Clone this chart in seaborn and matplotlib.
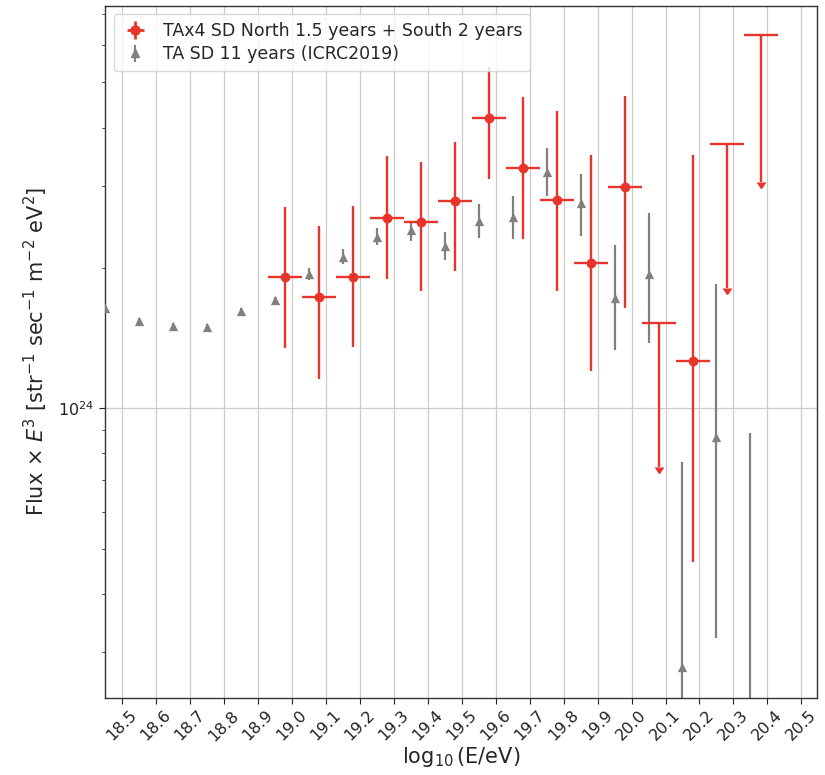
import numpy as np
import matplotlib
matplotlib.use("Agg")
import matplotlib.pyplot as plt
import seaborn as sns
from matplotlib.container import ErrorbarContainer
from matplotlib.lines import Line2D
from matplotlib.collections import LineCollection
from matplotlib.ticker import NullFormatter, MultipleLocator, FormatStrFormatter

# --- TAx4 SD (North 1.5 yr + South 2 yr): measured bins ---
tax4_loge = [18.98, 19.08, 19.18, 19.28, 19.38, 19.48, 19.58, 19.68, 19.78, 19.88, 19.98, 20.18]
tax4_flux = [1.910e24, 1.736e24, 1.916e24, 2.557e24, 2.507e24, 2.782e24, 4.192e24,
             3.283e24, 2.799e24, 2.053e24, 2.985e24, 1.265e24]
tax4_hi = [2.707e24, 2.461e24, 2.721e24, 3.467e24, 3.372e24, 3.733e24, 5.383e24,
           4.649e24, 4.330e24, 3.484e24, 4.680e24, 3.484e24]
tax4_lo = [1.345e24, 1.154e24, 1.356e24, 1.891e24, 1.788e24, 1.974e24, 3.100e24,
           2.308e24, 1.788e24, 1.204e24, 1.644e24, 4.687e23]

# --- TAx4 SD: upper limits ---
tax4_ul_loge = [20.08, 20.28, 20.38]
tax4_ul_flux = [1.524e24, 3.685e24, 6.303e24]
tax4_ul_arrow = [0.748e24, 1.809e24, 3.063e24]

# --- TA SD 11 years (ICRC2019) ---
ta_loge = [18.45, 18.55, 18.65, 18.75, 18.85, 18.95, 19.05, 19.15, 19.25, 19.35,
           19.45, 19.55, 19.65, 19.75, 19.85, 19.95, 20.05, 20.15, 20.25, 20.35]
ta_flux = [1.641e24, 1.539e24, 1.502e24, 1.492e24, 1.618e24, 1.708e24, 1.939e24,
           2.115e24, 2.334e24, 2.407e24, 2.227e24, 2.527e24, 2.573e24, 3.219e24,
           2.762e24, 1.722e24, 1.942e24, 2.790e23, 8.660e23, 1.600e23]
ta_hi = [1.665e24, 1.560e24, 1.522e24, 1.512e24, 1.640e24, 1.735e24, 1.997e24,
         2.194e24, 2.441e24, 2.519e24, 2.386e24, 2.741e24, 2.855e24, 3.614e24,
         3.183e24, 2.240e24, 2.621e24, 7.680e23, 1.845e24, 8.860e23]
ta_lo = [1.617e24, 1.518e24, 1.482e24, 1.472e24, 1.596e24, 1.681e24, 1.885e24,
         2.037e24, 2.240e24, 2.289e24, 2.081e24, 2.323e24, 2.308e24, 2.855e24,
         2.346e24, 1.334e24, 1.383e24, 1.200e23, 3.210e23, 5.000e22]

bin_half_width = 0.05

RED = "#e8352b"
GRAY = "#808080"

sns.set_style("ticks")
plt.rcParams["font.family"] = ["DejaVu Sans"]
plt.rcParams["mathtext.fontset"] = "dejavusans"

fig = plt.figure(figsize=(8.25, 7.75), dpi=100)
ax = fig.add_axes([0.1273, 0.0994, 0.8626, 0.8932])

ta_df = {"loge": np.array(ta_loge), "flux": np.array(ta_flux)}
tax4_df = {"loge": np.array(tax4_loge), "flux": np.array(tax4_flux)}

# TA SD error bars and points
ta_f = np.array(ta_flux)
ax.errorbar(ta_loge, ta_f, yerr=[ta_f - np.array(ta_lo), np.array(ta_hi) - ta_f],
            fmt="none", ecolor=GRAY, elinewidth=1.6, capsize=0, zorder=2)
sns.scatterplot(x="loge", y="flux", data=ta_df, marker="^", color=GRAY, s=45,
                linewidth=0, ax=ax, legend=False, zorder=3)

# TAx4 measured bins
tx_f = np.array(tax4_flux)
ax.errorbar(tax4_loge, tx_f, xerr=bin_half_width,
            yerr=[tx_f - np.array(tax4_lo), np.array(tax4_hi) - tx_f],
            fmt="none", ecolor=RED, elinewidth=1.7, capsize=0, zorder=4)
sns.scatterplot(x="loge", y="flux", data=tax4_df, marker="o", color=RED, s=50,
                linewidth=0, ax=ax, legend=False, zorder=5)

# TAx4 upper limits
ul_f = np.array(tax4_ul_flux)
ax.errorbar(tax4_ul_loge, ul_f, xerr=bin_half_width, yerr=ul_f - np.array(tax4_ul_arrow),
            uplims=True, fmt="none", ecolor=RED, elinewidth=1.7, capsize=0,
            color=RED, zorder=4)

ax.set_yscale("log")
ax.set_xlim(18.45, 20.545)
ax.set_ylim(2.39e23, 7.3e24)
ax.xaxis.set_major_locator(MultipleLocator(0.1))
ax.xaxis.set_major_formatter(FormatStrFormatter("%.1f"))
ax.yaxis.set_minor_formatter(NullFormatter())
ax.grid(True, which="major", color="#cccccc", linewidth=0.9)
for s in ax.spines.values():
    s.set_visible(True)
    s.set_color("#333333")
    s.set_linewidth(1.0)

ax.tick_params(axis="both", colors="#222222")
ax.tick_params(axis="x", labelrotation=45, labelsize=11.5, length=4, pad=3)
ax.tick_params(axis="y", which="major", labelsize=11.5, length=4)
ax.tick_params(axis="y", which="minor", length=2.5)
for lab in ax.get_xticklabels():
    lab.set_horizontalalignment("center")

ax.set_xlabel(r"$\log_{10}$(E/eV)", fontsize=15, labelpad=1)
ax.set_ylabel(r"Flux $\times$ $E^3$ [str$^{-1}$ sec$^{-1}$ m$^{-2}$ eV$^2$]",
              fontsize=15, labelpad=6)

# Legend handles styled like error-bar points
def eb_handle(color, marker, size, xerr, lw):
    pt = Line2D([], [], marker=marker, color=color, linestyle="none", markersize=size)
    bars = (LineCollection([], colors=color, linewidths=lw),)
    return ErrorbarContainer((pt, (), bars), has_xerr=xerr, has_yerr=True)

h_red = eb_handle(RED, "o", 6.5, True, 2.0)
h_gray = eb_handle(GRAY, "^", 6, False, 1.6)
ax.legend([h_red, h_gray],
          ["TAx4 SD North 1.5 years + South 2 years", "TA SD 11 years (ICRC2019)"],
          loc="upper left", fontsize=12.5, frameon=True, framealpha=0.8,
          edgecolor="#d0d0d0", handlelength=1.6, borderpad=0.45,
          labelspacing=0.3)

fig.savefig("out.png", dpi=100)
